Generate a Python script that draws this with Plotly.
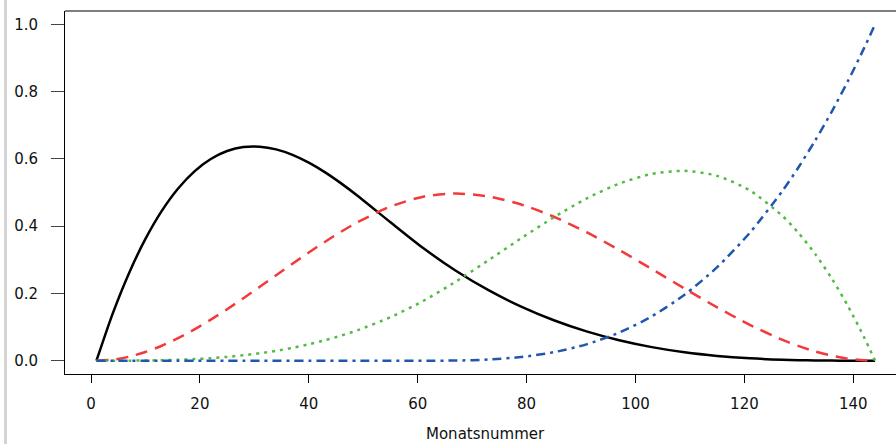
import plotly.graph_objects as go

# Month numbers where curve values were read
monat = [1, 4, 7, 10, 13, 16, 19, 22, 25, 28, 31, 34, 37, 40, 43, 46, 49, 55,
         61, 67, 73, 79, 85, 91, 97, 103, 109, 115, 121, 127,
         130, 133, 136, 139, 142, 144]

schwarz = [0, 0.1407, 0.2610, 0.3621, 0.4453, 0.5118, 0.5628, 0.5995, 0.6232,
           0.6351, 0.6363, 0.6282, 0.6119, 0.5887, 0.5598, 0.5264, 0.4898,
           0.4115,
           0.3349, 0.2674, 0.2096, 0.1608, 0.1203, 0.0872, 0.0608, 0.0404,
           0.0251, 0.0143, 0.0071, 0.0029,
           0.0016, 0.0008, 0.0003, 0.0001, 0.0000, 0]
rot = [0, 0.0031, 0.0119, 0.0259, 0.0445, 0.0671, 0.0931, 0.1220, 0.1531,
       0.1858, 0.2196, 0.2539, 0.2881, 0.3216, 0.3538, 0.3842, 0.4121, 0.4583,
       0.4876, 0.4970, 0.4883, 0.4644, 0.4280, 0.3820, 0.3293, 0.2725,
       0.2146, 0.1583, 0.1065, 0.0619,
       0.0433, 0.0275, 0.0150, 0.0060, 0.0010, 0]
gruen = [0, 0.0000, 0.0002, 0.0006, 0.0014, 0.0028, 0.0048, 0.0076, 0.0114,
         0.0162, 0.0222, 0.0295, 0.0383, 0.0488, 0.0609, 0.0749, 0.0909,
         0.1294,
         0.1775, 0.2352, 0.2987, 0.3639, 0.4264, 0.4820, 0.5264, 0.5553,
         0.5644, 0.5494, 0.5060, 0.4301,
         0.3785, 0.3172, 0.2455, 0.1630, 0.0691, 0]
blau = [0, 0, 0, 0, 0, 0, 0, 0, 0, 0, 0, 0, 0, 0, 0, 0, 0, 0,
        0.0000, 0.0005, 0.0034, 0.0109, 0.0253, 0.0487, 0.0835, 0.1319,
        0.1960, 0.2781, 0.3804, 0.5051,
        0.5766, 0.6546, 0.7392, 0.8309, 0.9299, 1]

x_ticks = [0, 20, 40, 60, 80, 100, 120, 140]
y_ticks = [0.0, 0.2, 0.4, 0.6, 0.8, 1.0]
y_labels = ["0.0", "0.2", "0.4", "0.6", "0.8", "1.0"]
x_title = "Monatsnummer"

FONT = "DejaVu Sans"

fig = go.Figure()
series = [
    (schwarz, "#000000", "solid"),
    (rot, "#f23a3a", "12px,8px"),
    (gruen, "#52bb44", "3px,5px"),
    (blau, "#2056ae", "9px,5px,3px,5px"),
]
for ys, col, dash in series:
    fig.add_trace(go.Scatter(
        x=monat, y=ys, mode="lines",
        line=dict(color=col, width=2.5, dash=dash, shape="spline", smoothing=0.7),
        showlegend=False, hoverinfo="skip"))

fig.update_layout(
    width=896, height=444,
    margin=dict(l=65, r=0, t=11, b=70),
    paper_bgcolor="white", plot_bgcolor="white",
    font=dict(family=FONT, size=15, color="#111111"),
    xaxis=dict(
        range=[-4.775, 147.84], tickvals=x_ticks, ticktext=[str(v) for v in x_ticks],
        showgrid=False, zeroline=False, showline=True, linecolor="#000000",
        linewidth=1, ticks="outside", ticklen=8, tickcolor="#000000",
        tickwidth=1, ticklabelstandoff=8, mirror=False),
    yaxis=dict(
        range=[-0.0395, 1.0395], tickvals=y_ticks, ticktext=y_labels,
        showgrid=False, zeroline=False, showline=True, linecolor="#000000",
        linewidth=1, ticks="outside", ticklen=13, tickcolor="#444444",
        tickwidth=1, ticklabelstandoff=10, mirror=False),
    shapes=[
        dict(type="line", xref="paper", yref="paper", x0=0, x1=1, y0=1, y1=1,
             line=dict(color="#555555", width=1.5)),
        dict(type="line", xref="paper", yref="paper", x0=-0.0716, x1=-0.0716,
             y0=-0.2, y1=1.04, line=dict(color="#d4d4d4", width=3)),
    ],
    annotations=[
        dict(text=x_title, x=72.5, xref="x", y=-0.164, yref="paper",
             xanchor="center", yanchor="middle", showarrow=False,
             font=dict(family=FONT, size=15, color="#111111")),
    ],
)

fig.write_html("out.html")
